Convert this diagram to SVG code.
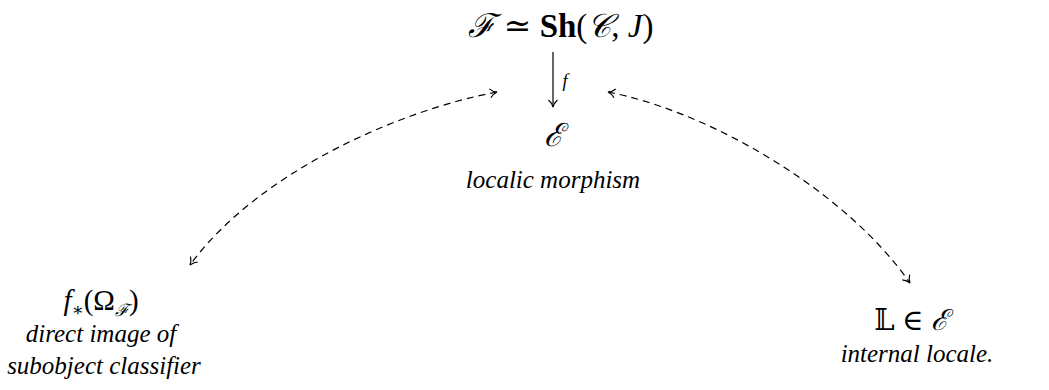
<svg xmlns="http://www.w3.org/2000/svg" width="1049" height="390" viewBox="0 0 1049 390">
<style>
text{font-family:"Liberation Serif","DejaVu Serif",serif;fill:#000;text-anchor:middle}
.it{font-style:italic;font-size:25px}
.m{font-size:29px}
.c{stroke:#000;stroke-width:1.2;fill:none}
.d{stroke-dasharray:7 5}
</style>
<defs>
<marker id="ah" markerWidth="12" markerHeight="12" refX="9" refY="6" orient="auto" markerUnits="userSpaceOnUse">
<path d="M2,1.5 Q5,5 9,6 Q5,7 2,10.5" fill="none" stroke="#000" stroke-width="1.2"/>
</marker>
<marker id="as" markerWidth="12" markerHeight="12" refX="3" refY="6" orient="auto" markerUnits="userSpaceOnUse">
<path d="M10,1.5 Q7,5 3,6 Q7,7 10,10.5" fill="none" stroke="#000" stroke-width="1.2"/>
</marker>
</defs>
<g id="connectors">
<path class="c" d="M553,52 L553,107" marker-end="url(#ah)"/>
<text x="565" y="87" style="font-style:italic;font-size:18px">f</text>
<path class="c d" d="M497,92 C400,110 258,172 190,265" marker-start="url(#as)" marker-end="url(#ah)"/>
<path class="c d" d="M608,92 C710,112 845,190 910,283" marker-start="url(#as)" marker-end="url(#ah)"/>
</g>
<g id="top">
<text x="561" y="37" font-size="33"><tspan font-style="italic">ℱ</tspan> ≃ <tspan font-weight="bold">Sh</tspan>(<tspan font-style="italic">𝒞</tspan>, <tspan font-style="italic">J</tspan>)</text>
</g>
<g id="E">
<text x="553" y="146" font-style="italic" font-size="32">ℰ</text>
<text class="it" x="553" y="188">localic morphism</text>
</g>
<g id="left">
<text class="m" x="101" y="310"><tspan font-style="italic">f</tspan><tspan font-size="18" dy="6">∗</tspan><tspan dy="-6">(Ω</tspan><tspan font-size="17" dy="6" font-style="italic">ℱ</tspan><tspan dy="-6">)</tspan></text>
<text class="it" x="101" y="342">direct image of</text>
<text class="it" x="104" y="374">subobject classifier</text>
</g>
<g id="right">
<text class="m" x="911" y="330">𝕃 ∈ <tspan font-style="italic">ℰ</tspan></text>
<text class="it" x="917" y="362">internal locale.</text>
</g>
</svg>
